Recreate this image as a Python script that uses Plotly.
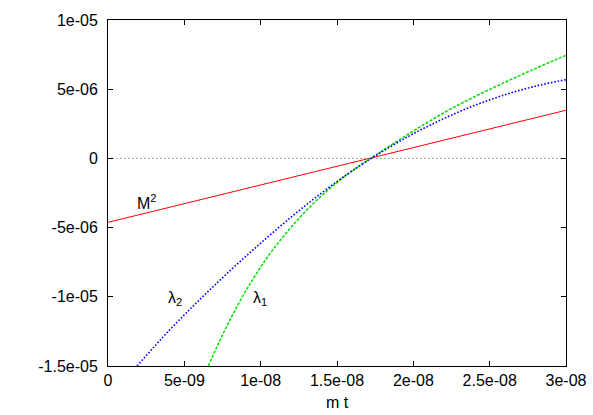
import plotly.graph_objects as go

# data
m2_x = [0, 3e-08]
m2_y = [-4.62e-06, 3.48e-06]

lam1_x = [6.57e-09, 7.5e-09, 8.5e-09, 9.5e-09, 10.5e-09, 11.5e-09, 12.5e-09, 13.5e-09, 14.5e-09,
          15.5e-09, 16.5e-09, 17.2e-09, 18.5e-09, 20e-09, 22e-09, 24e-09, 26e-09, 28e-09, 30e-09]
lam1_y = [-15.0e-06, -12.75e-06, -10.6e-06, -8.7e-06, -7.05e-06, -5.62e-06, -4.35e-06, -3.2e-06,
          -2.2e-06, -1.3e-06, -0.5e-06, 0.0, 0.93e-06, 1.98e-06, 3.3e-06, 4.45e-06, 5.5e-06,
          6.5e-06, 7.45e-06]

lam2_x = [1.9e-09, 4e-09, 6e-09, 8e-09, 10e-09, 12e-09, 14e-09, 16e-09,
          18e-09, 20e-09, 22e-09, 24e-09, 26e-09, 28e-09, 30e-09]
lam2_y = [-15.0e-06, -12.44e-06, -10.21e-06, -8.11e-06, -6.12e-06, -4.24e-06, -2.49e-06, -0.90e-06,
          0.52e-06, 1.78e-06, 2.88e-06, 3.82e-06, 4.60e-06, 5.22e-06, 5.69e-06]

x_ticks = [0, 5e-09, 1e-08, 1.5e-08, 2e-08, 2.5e-08, 3e-08]
x_labels = ["0", "5e-09", "1e-08", "1.5e-08", "2e-08", "2.5e-08", "3e-08"]
y_ticks = [-1.5e-05, -1e-05, -5e-06, 0, 5e-06, 1e-05]
y_labels = ["-1.5e-05", "-1e-05", "-5e-06", "0", "5e-06", "1e-05"]

fig = go.Figure()
fig.add_trace(go.Scatter(x=m2_x, y=m2_y, mode="lines",
                         line=dict(color="#ff0000", width=1)))
fig.add_trace(go.Scatter(x=lam1_x, y=lam1_y, mode="lines", line_shape="spline",
                         line=dict(color="#00e000", width=1.5, dash="3px,1.5px")))
fig.add_trace(go.Scatter(x=lam2_x, y=lam2_y, mode="lines", line_shape="spline",
                         line=dict(color="#0000ff", width=1.6, dash="1.6px,1.8px")))

# zero line, dotted grey
fig.add_shape(type="line", xref="paper", x0=0, x1=1, yref="y", y0=0, y1=0,
              line=dict(color="#a0a0a0", width=1, dash="2px,2px"), layer="below")

font = dict(family="Liberation Sans, Arial, sans-serif", size=16, color="black")
fig.add_annotation(x=2.55e-09, y=-3.15e-06, text="M<sup>2</sup>", showarrow=False, font=font)
fig.add_annotation(x=4.4e-09, y=-10.1e-06, text="λ<sub>2</sub>", showarrow=False, font=font)
fig.add_annotation(x=9.95e-09, y=-10.1e-06, text="λ<sub>1</sub>", showarrow=False, font=font)

axis = dict(showline=True, linecolor="black", linewidth=1, mirror="ticks",
            ticks="inside", ticklen=5, tickcolor="black", showgrid=False,
            zeroline=False, tickfont=font, automargin=False)
fig.update_xaxes(range=[0, 3e-08], tickvals=x_ticks, ticktext=x_labels,
                 title=dict(text="m t", font=font, standoff=8), **axis)
fig.update_yaxes(range=[-1.5e-05, 1e-05], tickvals=y_ticks, ticktext=y_labels,
                 ticklabelstandoff=6, **axis)

fig.update_layout(width=593, height=415, showlegend=False,
                  margin=dict(l=108, r=27, t=20, b=49),
                  plot_bgcolor="white", paper_bgcolor="white", font=font)

# page body has an 8px default margin; drop it so the figure sits at 0,0
fig.write_html("out.html", config={"displayModeBar": False},
               post_script="document.body.style.margin='0';")
